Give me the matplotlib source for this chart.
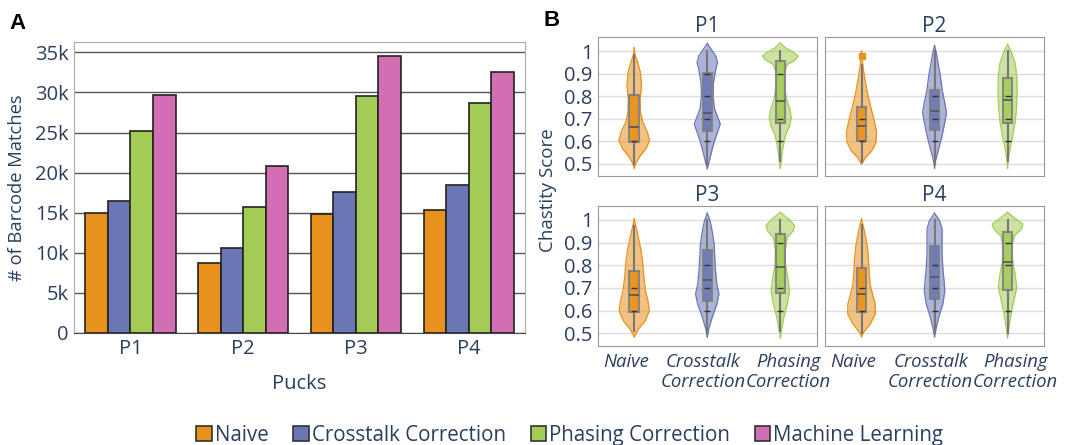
import numpy as np
import matplotlib
matplotlib.use("Agg")
import matplotlib.pyplot as plt
import matplotlib.transforms as mtrans
from matplotlib.patches import Patch

plt.rcParams['font.family'] = ['Open Sans', 'DejaVu Sans']
TXT = '#2a3f5f'

# ---- data ----
pucks = ["P1", "P2", "P3", "P4"]
methods = ["Naive", "Crosstalk Correction", "Phasing Correction", "Machine Learning"]
colors = ['#E8911C', '#6B76B5', '#A3CC57', '#D26EB3']

# barcode matches (k)
naive_matches = [15.0, 8.7, 14.8, 15.3]
crosstalk_matches = [16.5, 10.6, 17.6, 18.4]
phasing_matches = [25.2, 15.7, 29.5, 28.7]
ml_matches = [29.7, 20.8, 34.6, 32.6]

violin_labels = ["Naive", "Crosstalk\nCorrection", "Phasing\nCorrection"]

# violin outlines: (score, half width)
p1_naive = [(0.48, 0), (0.50, 0.02), (0.53, 0.07), (0.566, 0.16), (0.603, 0.21), (0.64, 0.18), (0.684, 0.117),
            (0.73, 0.085), (0.787, 0.08), (0.845, 0.10), (0.905, 0.085), (0.95, 0.047), (0.98, 0.014), (1.015, 0)]
p1_cross = [(0.478, 0), (0.507, 0.024), (0.55, 0.056), (0.596, 0.094), (0.64, 0.14), (0.676, 0.178), (0.70, 0.15),
            (0.743, 0.10), (0.80, 0.08), (0.86, 0.085), (0.92, 0.117), (0.95, 0.14), (0.978, 0.117), (1.007, 0.056), (1.034, 0)]
p1_phase = [(0.48, 0), (0.515, 0.014), (0.566, 0.033), (0.625, 0.07), (0.67, 0.13), (0.706, 0.15), (0.743, 0.13),
            (0.787, 0.085), (0.845, 0.056), (0.905, 0.056), (0.94, 0.094), (0.963, 0.21), (0.978, 0.244), (0.993, 0.19), (1.015, 0.07), (1.037, 0)]
p2_naive = [(0.498, 0), (0.528, 0.056), (0.557, 0.141), (0.594, 0.197), (0.639, 0.207), (0.698, 0.169), (0.757, 0.122),
            (0.816, 0.08), (0.875, 0.047), (0.934, 0.019), (1.0, 0)]
p2_cross = [(0.48, 0), (0.513, 0.014), (0.565, 0.056), (0.624, 0.103), (0.683, 0.14), (0.727, 0.164), (0.771, 0.14),
            (0.83, 0.103), (0.889, 0.08), (0.948, 0.047), (0.993, 0.024), (1.025, 0)]
p2_phase = [(0.48, 0), (0.52, 0.01), (0.565, 0.033), (0.624, 0.07), (0.683, 0.103), (0.742, 0.122), (0.816, 0.131),
            (0.889, 0.127), (0.948, 0.103), (1.0, 0.047), (1.03, 0)]
p3_naive = [(0.484, 0), (0.518, 0.056), (0.555, 0.15), (0.599, 0.207), (0.643, 0.188), (0.687, 0.155), (0.746, 0.131),
            (0.805, 0.117), (0.864, 0.094), (0.923, 0.056), (0.968, 0.024), (1.005, 0)]
p3_cross = [(0.484, 0), (0.518, 0.019), (0.569, 0.066), (0.628, 0.131), (0.673, 0.16), (0.717, 0.131), (0.776, 0.113),
            (0.835, 0.103), (0.894, 0.094), (0.953, 0.066), (0.997, 0.038), (1.03, 0)]
p3_phase = [(0.48, 0), (0.51, 0.014), (0.569, 0.047), (0.628, 0.094), (0.687, 0.127), (0.746, 0.103), (0.805, 0.07),
            (0.864, 0.066), (0.923, 0.094), (0.953, 0.178), (0.975, 0.197), (1.004, 0.117), (1.034, 0)]
p4_naive = [(0.484, 0), (0.503, 0.024), (0.54, 0.117), (0.584, 0.188), (0.628, 0.188), (0.673, 0.15), (0.717, 0.117),
            (0.776, 0.103), (0.835, 0.094), (0.894, 0.075), (0.953, 0.038), (1.005, 0)]
p4_cross = [(0.484, 0), (0.518, 0.019), (0.569, 0.056), (0.628, 0.113), (0.687, 0.141), (0.73, 0.131), (0.79, 0.113),
            (0.85, 0.103), (0.909, 0.103), (0.96, 0.103), (0.997, 0.07), (1.03, 0)]
p4_phase = [(0.48, 0), (0.525, 0.019), (0.584, 0.047), (0.643, 0.085), (0.702, 0.127), (0.761, 0.103), (0.82, 0.07),
            (0.879, 0.056), (0.93, 0.094), (0.96, 0.188), (0.982, 0.211), (1.004, 0.117), (1.034, 0)]

# box stats: whislo, q1, median, q3, whishi
p1_boxes = [(0.50, 0.595, 0.664, 0.807, 0.985), (0.50, 0.645, 0.727, 0.901, 1.0), (0.513, 0.68, 0.779, 0.956, 1.0)]
p2_boxes = [(0.509, 0.602, 0.668, 0.752, 0.94), (0.50, 0.649, 0.735, 0.827, 1.0), (0.51, 0.68, 0.783, 0.879, 1.0)]
p3_boxes = [(0.51, 0.594, 0.668, 0.776, 0.975), (0.50, 0.642, 0.733, 0.867, 1.0), (0.51, 0.676, 0.794, 0.938, 1.0)]
p4_boxes = [(0.50, 0.596, 0.673, 0.788, 0.98), (0.50, 0.653, 0.749, 0.883, 1.0), (0.50, 0.692, 0.813, 0.948, 1.0)]

# discrete score ticks visible on the centre lines
p1_marks = [[0.6], [0.6, 0.7, 0.8, 0.9], [0.6, 0.7, 0.9]]
p2_marks = [[0.6, 0.7], [0.6, 0.7, 0.8], [0.6, 0.7, 0.8]]
p3_marks = [[0.6, 0.7], [0.6, 0.7, 0.8], [0.6, 0.7, 0.9]]
p4_marks = [[0.6, 0.7], [0.6, 0.7, 0.8], [0.6, 0.8, 0.9]]
p2_outliers = [[0.978], [], []]

fig = plt.figure(figsize=(10.67, 4.45), dpi=100)

# ---- panel A ----
axA = fig.add_axes([0.0694, 0.2517, 0.4227, 0.654])
x = np.arange(len(pucks))
bw = 0.2
for i, vals in enumerate([naive_matches, crosstalk_matches, phasing_matches, ml_matches]):
    axA.bar(x + (i - 1.5) * bw, vals, bw, color=colors[i], edgecolor='#222222', linewidth=1.2, zorder=3)
axA.set_xlim(-0.5, 3.5)
axA.set_ylim(0, 36.3)
yt = [0, 5, 10, 15, 20, 25, 30, 35]
axA.set_yticks(yt)
axA.set_yticklabels(["0"] + [str(v) + "k" for v in yt[1:]], fontsize=14.5, color=TXT)
axA.set_xticks(x)
axA.set_xticklabels(pucks, fontsize=14.5, color=TXT)
axA.tick_params(length=0, pad=4)
axA.grid(axis='y', color='#555555', linewidth=1.0, zorder=0)
for s in ['top', 'right', 'left']:
    axA.spines[s].set_color('#aaaaaa')
axA.spines['bottom'].set_color('#444444')
axA.set_ylabel("# of Barcode Matches", fontsize=13.2, color=TXT, labelpad=6)
axA.set_xlabel("Pucks", fontsize=14.5, color=TXT, labelpad=11)
fig.text(0.009, 0.948, "A", fontsize=16, fontweight='bold', va='center', family=['Liberation Sans', 'DejaVu Sans'])

# ---- panel B ----
rects = [[0.5602, 0.6045, 0.2053, 0.3124], [0.7732, 0.6045, 0.2053, 0.3124],
         [0.5602, 0.2231, 0.2053, 0.3146], [0.7732, 0.2231, 0.2053, 0.3146]]
violins = [[p1_naive, p1_cross, p1_phase], [p2_naive, p2_cross, p2_phase],
           [p3_naive, p3_cross, p3_phase], [p4_naive, p4_cross, p4_phase]]
boxes = [p1_boxes, p2_boxes, p3_boxes, p4_boxes]
marks = [p1_marks, p2_marks, p3_marks, p4_marks]
outl = [[[], [], []], p2_outliers, [[], [], []], [[], [], []]]
label_shift = [-8, -4, 8]  # pixels, labels sit slightly spread out in the original

for k in range(4):
    ax = fig.add_axes(rects[k])
    for j in range(3):
        v = np.array(violins[k][j])
        ax.fill_betweenx(v[:, 0], j - v[:, 1], j + v[:, 1], color=colors[j], alpha=0.55, linewidth=0, zorder=2)
        ax.plot(j - v[:, 1], v[:, 0], color=colors[j], lw=0.9, zorder=2)
        ax.plot(j + v[:, 1], v[:, 0], color=colors[j], lw=0.9, zorder=2)
        lo, q1, med, q3, hi = boxes[k][j]
        st = [dict(whislo=lo, q1=q1, med=med, q3=q3, whishi=hi, fliers=outl[k][j])]
        ax.bxp(st, positions=[j], widths=0.13, patch_artist=True, showcaps=False, zorder=3,
               boxprops=dict(facecolor=colors[j], edgecolor='#808080', linewidth=1.5, alpha=0.9),
               medianprops=dict(color='#555555', linewidth=1.2),
               whiskerprops=dict(color='#777777', linewidth=1.5),
               flierprops=dict(marker='s', markersize=5, markerfacecolor=colors[j], markeredgecolor=colors[j]))
        ax.plot([j] * len(marks[k][j]), marks[k][j], marker='_', ms=5, mew=1, color='#333333', ls='none', zorder=4)
    ax.set_xlim(-0.5, 2.5)
    ax.set_ylim(0.445, 1.063)
    ax.set_yticks([0.5, 0.6, 0.7, 0.8, 0.9, 1.0])
    ax.grid(axis='y', color='#dddddd', linewidth=1.0, zorder=0)
    ax.set_axisbelow(True)
    for s in ax.spines.values():
        s.set_color('#999999')
    ax.tick_params(length=0)
    if k % 2 == 0:
        ax.set_yticklabels(["0.5", "0.6", "0.7", "0.8", "0.9", "1"], fontsize=14.5, color=TXT)
    else:
        ax.set_yticklabels([])
    ax.set_xticks([0, 1, 2])
    if k >= 2:
        ax.set_xticklabels(violin_labels, fontsize=13.3, color=TXT, style='italic', linespacing=1.15)
        ax.tick_params(axis='x', pad=5)
        for lab, dx in zip(ax.get_xticklabels(), label_shift):
            lab.set_transform(lab.get_transform() + mtrans.ScaledTranslation(dx / 100, 0, fig.dpi_scale_trans))
    else:
        ax.set_xticklabels([])
    ax.set_title(pucks[k], fontsize=15, color=TXT, pad=3)

fig.text(0.514, 0.573, "Chastity Score", rotation=90, fontsize=13.5, color=TXT, va='center', ha='center')
fig.text(0.509, 0.955, "B", fontsize=16, fontweight='bold', va='center', family=['Liberation Sans', 'DejaVu Sans'])

# ---- legend ----
handles = [Patch(facecolor=c, edgecolor='#333333', linewidth=1.2) for c in colors]
fig.legend(handles, methods, ncol=4, loc='center', bbox_to_anchor=(0.534, 0.022), frameon=False,
           fontsize=14.8, handlelength=0.75, handleheight=0.8, handletextpad=0.15, columnspacing=1.2,
           labelcolor=TXT)

fig.savefig("out.png", dpi=100)
